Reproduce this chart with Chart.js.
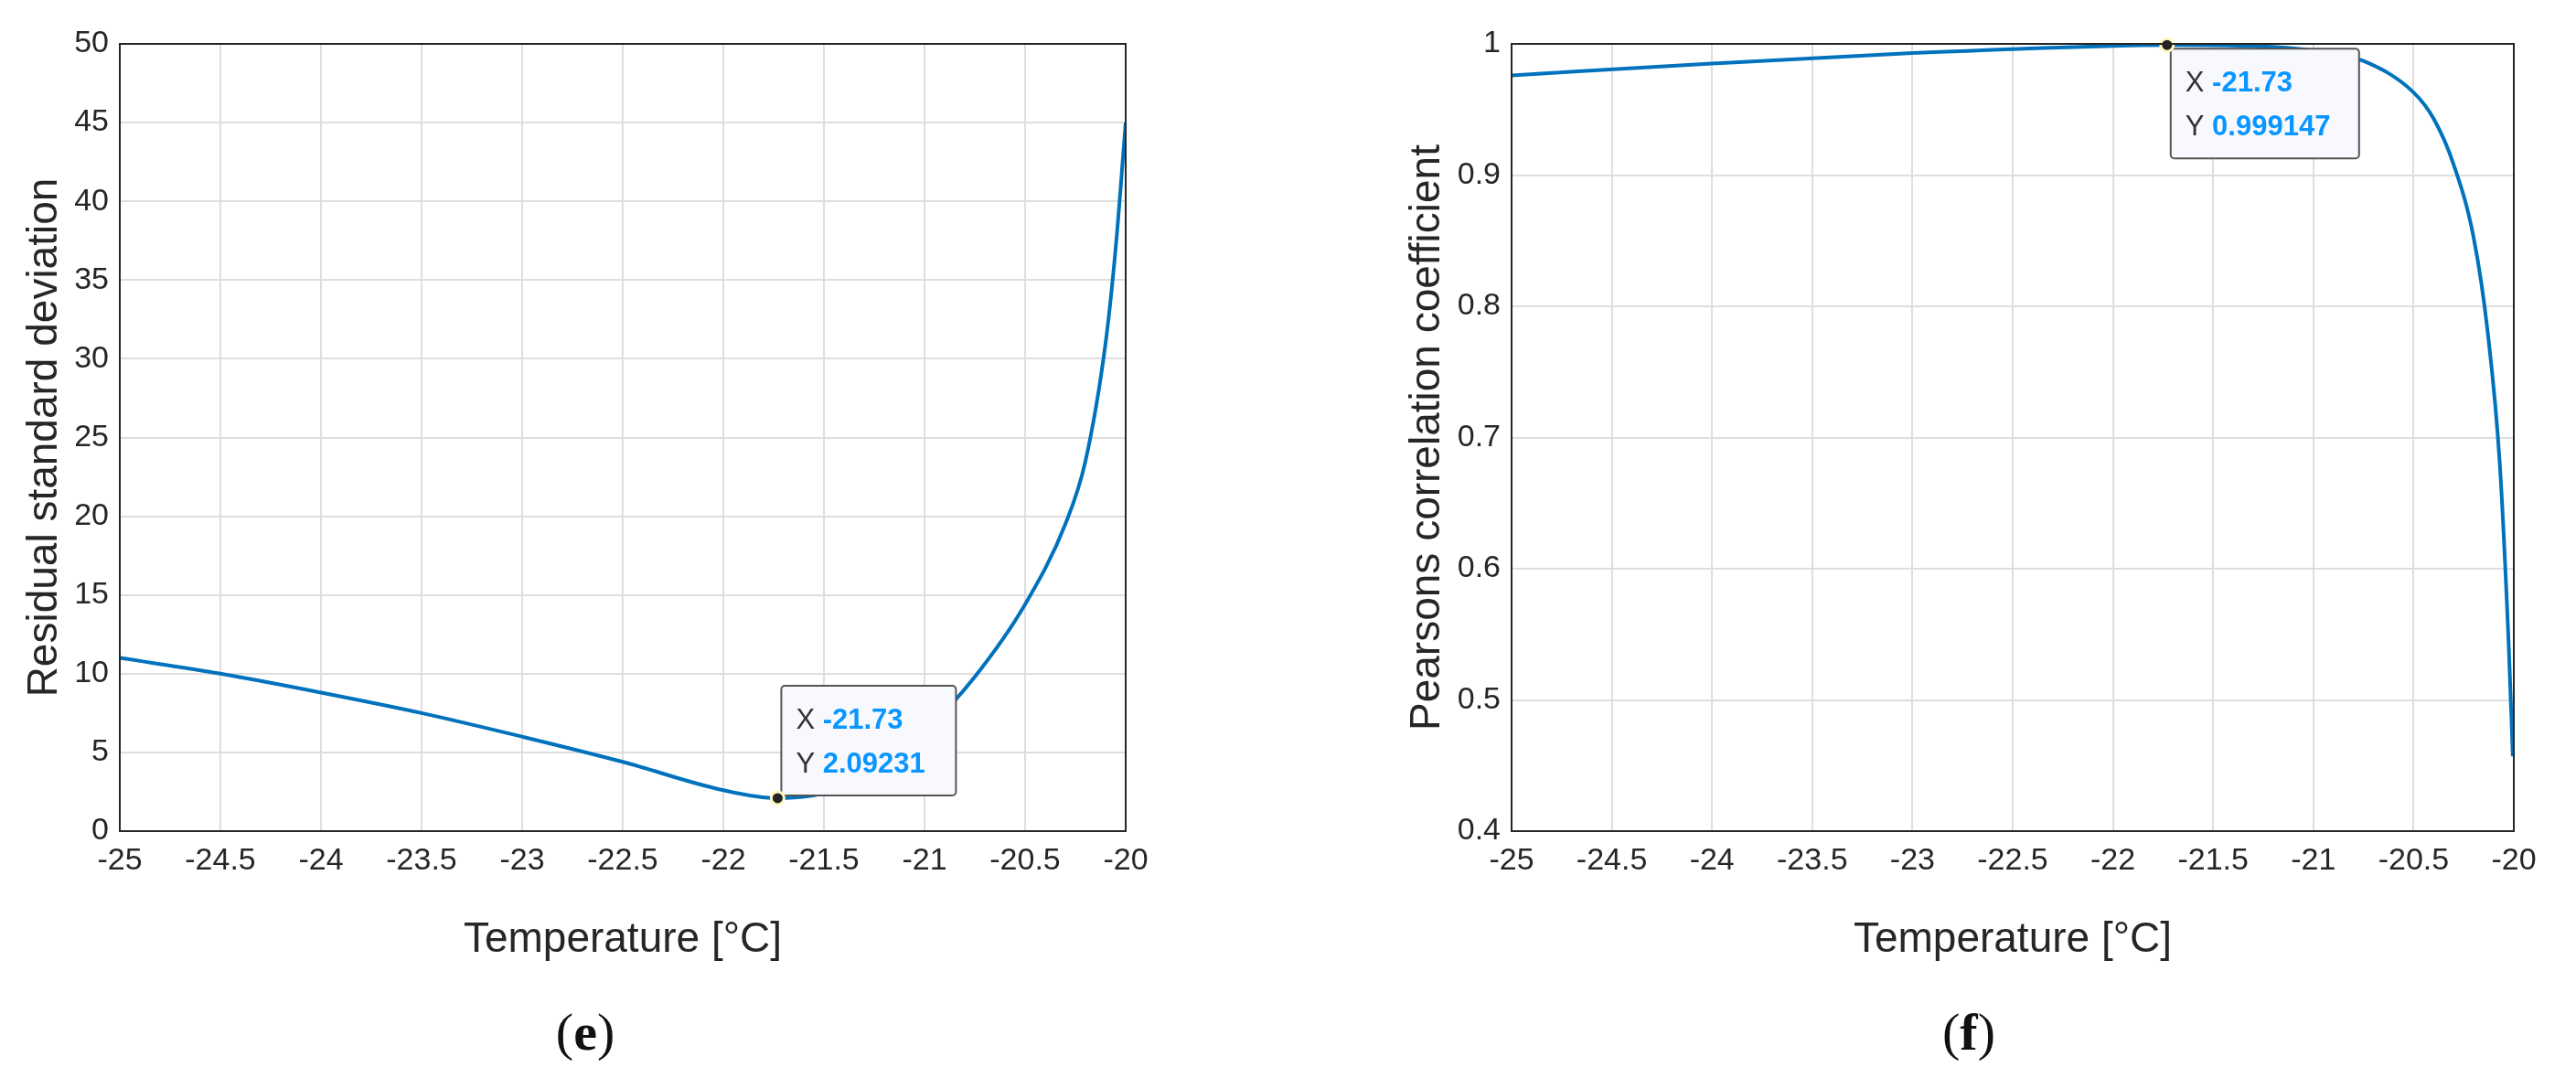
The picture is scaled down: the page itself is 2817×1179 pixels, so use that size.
<!DOCTYPE html>
<html>
<head>
<meta charset="utf-8">
<script src="https://cdn.jsdelivr.net/npm/chart.js@4.4.0/dist/chart.umd.min.js"></script>
<style>
  body { margin: 0; background: #fff; width: 2817px; height: 1179px; position: relative; overflow: hidden; }
  .box { position: absolute; top: 0; height: 1060px; }
  .panel { position: absolute; top: 1095px; font-family: "Liberation Serif", serif; font-size: 58px; color: #111; transform: translateX(-50%); }
</style>
</head>
<body>
<div class="box" style="left:18px;width:1282px"><canvas id="left-chart"></canvas></div>
<div class="box" style="left:1530px;width:1287px"><canvas id="right-chart"></canvas></div>
<div class="panel" style="left:640px">(<b>e</b>)</div>
<div class="panel" style="left:2153px">(<b>f</b>)</div>
<script>
const temps = [-25, -24.5, -24, -23.5, -23, -22.5, -22, -21.73, -21.5, -21.25, -21, -20.75, -20.5, -20.3, -20.2, -20.1, -20.05, -20];
const residual = [11, 10, 8.8, 7.5, 6.0, 4.4, 2.6, 2.09, 2.4, 3.7, 6.3, 9.8, 14.4, 19.5, 23.5, 31, 37, 45];

const tempsR = [-25, -24, -23, -22, -21.73, -21.5, -21, -20.75, -20.5, -20.4, -20.3, -20.2, -20.13, -20.07, -20.025, -20.005];
const pearson = [0.976, 0.985, 0.993, 0.9985, 0.999147, 0.999, 0.995, 0.987, 0.963, 0.943, 0.908, 0.852, 0.78, 0.68, 0.54, 0.457];

const xTicks = [-25, -24.5, -24, -23.5, -23, -22.5, -22, -21.5, -21, -20.5, -20];
const tipX = -21.73;

const lineColor = '#0072BD';
const tickFont = { family: 'Liberation Sans', size: 34 };
const titleFont = { family: 'Liberation Sans', size: 46 };

// MATLAB-style data tip box anchored at the selected point
function dataTip(yText, anchor) {
    return {
        id: 'datatip',
        afterDatasetsDraw(chart) {
            const ctx = chart.ctx;
            const px = chart.scales.x.getPixelForValue(tipX);
            const py = chart.scales.y.getPixelForValue(yText.value);
            ctx.save();
            const w = anchor === 'below' ? 206 : 191;
            const h = 120;
            const bx = px + 4;
            const by = anchor === 'below' ? py + 4 : py - h - 3;
            ctx.fillStyle = '#f8f9fe';
            ctx.strokeStyle = '#555';
            ctx.lineWidth = 2;
            ctx.beginPath();
            ctx.roundRect(bx, by, w, h, 4);
            ctx.fill();
            ctx.stroke();
            const rows = [['X ', String(tipX)], ['Y ', yText.label]];
            rows.forEach((r, i) => {
                const ty = by + 47 + i * 48;
                ctx.font = '31px "Liberation Sans"';
                ctx.fillStyle = '#333';
                ctx.fillText(r[0], bx + 16, ty);
                const off = ctx.measureText(r[0]).width;
                ctx.font = 'bold 31px "Liberation Sans"';
                ctx.fillStyle = '#0a96ff';
                ctx.fillText(r[1], bx + 16 + off, ty);
            });
            ctx.beginPath();
            ctx.arc(px, py, 7, 0, Math.PI * 2);
            ctx.fillStyle = '#222';
            ctx.fill();
            ctx.strokeStyle = '#fff7c0';
            ctx.lineWidth = 3;
            ctx.stroke();
            ctx.restore();
        }
    };
}

function makeConfig(xs, ys, yMin, yMax, yStep, yTitle, yWidth, rightPad, tip, tipPos) {
    return {
        type: 'line',
        data: {
            datasets: [{
                data: xs.map((x, i) => ({ x: x, y: ys[i] })),
                borderColor: lineColor,
                borderWidth: 4,
                pointRadius: 0,
                cubicInterpolationMode: 'monotone'
            }]
        },
        options: {
            responsive: true,
            maintainAspectRatio: false,
            animation: false,
            layout: { padding: { top: 48, right: rightPad, left: 0, bottom: 0 } },
            plugins: { legend: { display: false }, tooltip: { enabled: false } },
            scales: {
                x: {
                    type: 'linear',
                    min: -25, max: -20,
                    afterBuildTicks: axis => { axis.ticks = xTicks.map(v => ({ value: v })); },
                    ticks: { font: tickFont, color: '#262626', padding: 12, maxRotation: 0, callback: v => String(v) },
                    grid: { color: '#dedede', lineWidth: 2, drawTicks: false },
                    border: { color: '#262626', width: 2 },
                    title: { display: true, text: 'Temperature [°C]', font: titleFont, color: '#262626', padding: { top: 6 } },
                    afterFit: axis => { axis.height = 151; }
                },
                y: {
                    min: yMin, max: yMax,
                    ticks: { stepSize: yStep, font: tickFont, color: '#262626', padding: 12,
                        callback: v => String(Math.round(v * 10) / 10) },
                    grid: { color: '#dedede', lineWidth: 2, drawTicks: false },
                    border: { color: '#262626', width: 2 },
                    title: { display: true, text: yTitle, font: titleFont, color: '#262626' },
                    afterFit: axis => { axis.width = yWidth; }
                }
            }
        },
        plugins: [dataTip(tip, tipPos), {
            id: 'frame',
            afterDraw(chart) {
                const a = chart.chartArea;
                const ctx = chart.ctx;
                ctx.save();
                ctx.strokeStyle = '#262626';
                ctx.lineWidth = 2;
                ctx.strokeRect(a.left, a.top, a.right - a.left, a.bottom - a.top);
                ctx.restore();
            }
        }]
    };
}

new Chart(document.getElementById('left-chart'),
    makeConfig(temps, residual, 0, 50, 5, 'Residual standard deviation', 113, 69,
        { value: 2.09231, label: '2.09231' }, 'above'));

new Chart(document.getElementById('right-chart'),
    makeConfig(tempsR, pearson, 0.4, 1, 0.1, 'Pearsons correlation coefficient', 123, 68,
        { value: 0.999147, label: '0.999147' }, 'below'));
</script>
</body>
</html>
